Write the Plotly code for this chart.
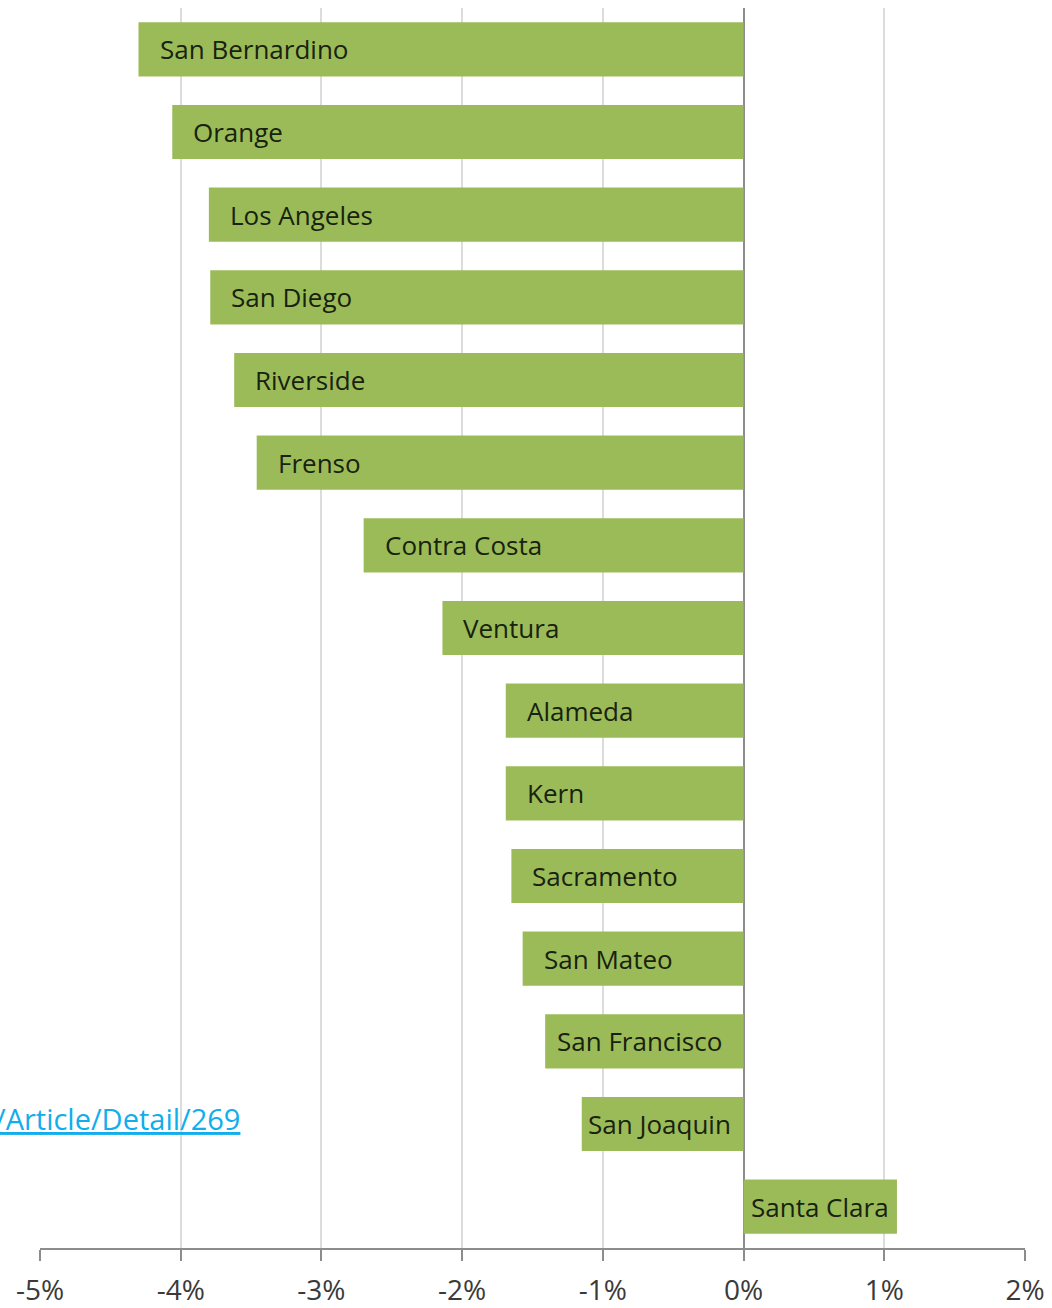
import plotly.graph_objects as go

# County names, top to bottom, and their percentage change
counties = [
    "San Bernardino", "Orange", "Los Angeles", "San Diego", "Riverside",
    "Frenso", "Contra Costa", "Ventura", "Alameda", "Kern",
    "Sacramento", "San Mateo", "San Francisco", "San Joaquin", "Santa Clara",
]
pct_change = [
    -4.30, -4.06, -3.80, -3.79, -3.62,
    -3.46, -2.70, -2.14, -1.69, -1.69,
    -1.65, -1.57, -1.41, -1.15, 1.09,
]
tick_values = [-5, -4, -3, -2, -1, 0, 1, 2]
tick_labels = ["-5%", "-4%", "-3%", "-2%", "-1%", "0%", "1%", "2%"]

BAR_GREEN = "#9BBB59"
LABEL_FONT = "Open Sans"

# Inner padding (px) between the left end of a bar and its label
label_pad = {"San Francisco": 10, "San Joaquin": 4, "Santa Clara": 5}

fig = go.Figure(
    go.Bar(
        x=pct_change,
        y=counties,
        orientation="h",
        marker=dict(color=BAR_GREEN, line=dict(width=0)),
        width=0.655,
        hoverinfo="x+y",
    )
)

# County names drawn inside each bar, starting at its left end
for name, val in zip(counties, pct_change):
    fig.add_annotation(
        x=min(val, 0),
        y=name,
        xref="x",
        yref="y",
        text=name,
        showarrow=False,
        xanchor="left",
        yanchor="middle",
        xshift=label_pad.get(name, 19),
        font=dict(family=LABEL_FONT, size=26, color="#18220e"),
    )

# Source link fragment running off the left edge
fig.add_annotation(
    x=-3.565,
    y=12.93,
    xref="x",
    yref="y",
    text="<u>/Article/Detail/269</u>",
    showarrow=False,
    xanchor="right",
    yanchor="middle",
    font=dict(family=LABEL_FONT, size=29, color="#12ADEB"),
)

fig.update_layout(
    width=1052,
    height=1308,
    margin=dict(l=40, r=27, t=8, b=60, autoexpand=False),
    paper_bgcolor="white",
    plot_bgcolor="white",
    showlegend=False,
    xaxis=dict(
        range=[-5, 2],
        tickvals=tick_values,
        ticktext=tick_labels,
        automargin=False,
        showgrid=True,
        gridcolor="#dcdcdc",
        gridwidth=1.5,
        zeroline=True,
        zerolinecolor="#8c8c8c",
        zerolinewidth=2,
        showline=True,
        linecolor="#8c8c8c",
        linewidth=2,
        ticks="outside",
        ticklen=11,
        tickwidth=2,
        tickcolor="#8c8c8c",
        ticklabelstandoff=5,
        tickfont=dict(family=LABEL_FONT, size=28, color="#3a3a3a"),
        fixedrange=True,
    ),
    yaxis=dict(
        categoryorder="array",
        categoryarray=counties,
        range=[14.5, -0.5],
        automargin=False,
        showticklabels=False,
        showgrid=False,
        showline=False,
        zeroline=False,
        ticks="",
        fixedrange=True,
    ),
)

fig.write_html("out.html")
